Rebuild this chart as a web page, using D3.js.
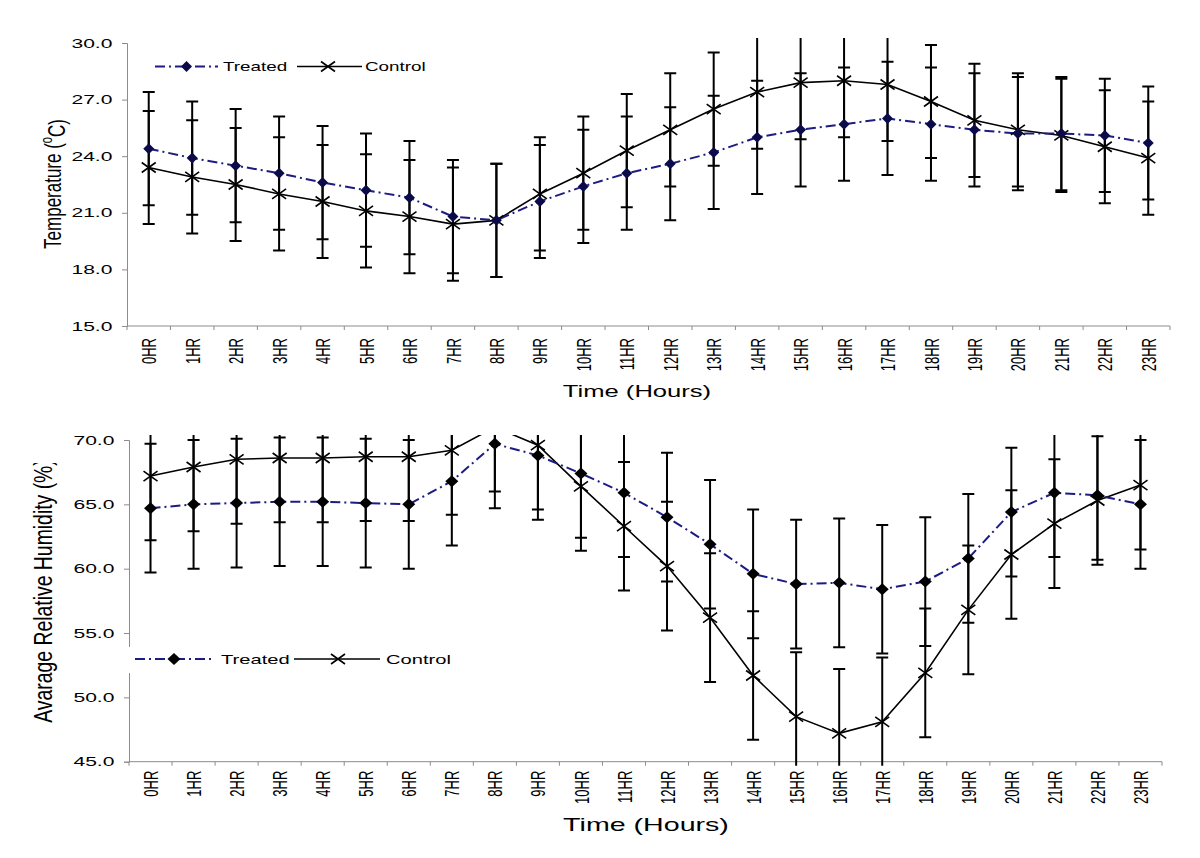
<!DOCTYPE html>
<html>
<head>
<meta charset="utf-8">
<script src="https://cdn.jsdelivr.net/npm/d3@7"></script>
<style>
  body { margin: 0; background: #fff; }
  svg { display: block; font-family: "Liberation Sans", Arial, sans-serif; }
</style>
</head>
<body>
<script>
// ---------------- data ----------------
const hours = ["0HR","1HR","2HR","3HR","4HR","5HR","6HR","7HR","8HR","9HR","10HR","11HR",
               "12HR","13HR","14HR","15HR","16HR","17HR","18HR","19HR","20HR","21HR","22HR","23HR"];

const tempTreated = [24.4, 23.9, 23.5, 23.1, 22.6, 22.2, 21.8, 20.8, 20.6, 21.6, 22.4, 23.1,
                     23.6, 24.2, 25.0, 25.4, 25.7, 26.0, 25.7, 25.4, 25.2, 25.2, 25.1, 24.7];
const tempControl = [23.4, 22.9, 22.5, 22.0, 21.6, 21.1, 20.8, 20.4, 20.6, 22.0, 23.1, 24.3,
                     25.4, 26.5, 27.4, 27.9, 28.0, 27.8, 26.9, 25.9, 25.4, 25.1, 24.5, 23.9];
const tempTreatedErr = [3.0, 3.0, 3.0, 3.0, 3.0, 3.0, 3.0, 3.0, 3.0, 3.0, 3.0, 3.0,
                        3.0, 3.0, 3.0, 3.0, 3.0, 3.0, 3.0, 3.0, 3.0, 3.0, 3.0, 3.0];
const tempControlErr = [3.0, 3.0, 3.0, 3.0, 3.0, 3.0, 3.0, 3.0, 3.0, 3.0, 3.0, 3.0,
                        3.0, 3.0, 3.0, 3.0, 3.0, 3.0, 3.0, 3.0, 3.0, 3.0, 3.0, 3.0];

const humTreated = [64.7, 65.0, 65.1, 65.2, 65.2, 65.1, 65.0, 66.8, 69.7, 68.8, 67.4, 65.9,
                    64.0, 61.9, 59.6, 58.8, 58.9, 58.4, 59.0, 60.8, 64.4, 65.9, 65.7, 65.0];
const humControl = [67.2, 67.9, 68.5, 68.6, 68.6, 68.7, 68.7, 69.2, 71.0, 69.6, 66.4, 63.3,
                    60.2, 56.2, 51.7, 48.5, 47.2, 48.1, 51.9, 56.8, 61.1, 63.5, 65.3, 66.5];
const humTreatedErr = [5.0, 5.0, 5.0, 5.0, 5.0, 5.0, 5.0, 5.0, 5.0, 5.0, 5.0, 5.0,
                       5.0, 5.0, 5.0, 5.0, 5.0, 5.0, 5.0, 5.0, 5.0, 5.0, 5.0, 5.0];
const humControlErr = [5.0, 5.0, 5.0, 5.0, 5.0, 5.0, 5.0, 5.0, 5.0, 5.0, 5.0, 5.0,
                       5.0, 5.0, 5.0, 5.0, 5.0, 5.0, 5.0, 5.0, 5.0, 5.0, 5.0, 5.0];

const tempTicks = [15, 18, 21, 24, 27, 30];
const humTicks = [45, 50, 55, 60, 65, 70];
const seriesNames = ["Treated", "Control"];

// ---------------- drawing ----------------
const svg = d3.select("body").append("svg").attr("width", 1200).attr("height", 858);
const AXIS = "#8c8c8c";
const NAVY = "#1c1c82";

function stext(parent, x, y, str, o) {
  const g = parent.append("g").attr("transform", `translate(${x},${y})`);
  const t = g.append("text")
    .attr("transform", `scale(${o.sx},1)` + (o.rot ? " rotate(-90)" : ""))
    .attr("font-size", o.size)
    .attr("text-anchor", o.anchor || "middle")
    .attr("dy", o.dy || "0.35em")
    .attr("fill", "#000");
  t.text(str);
  return t;
}

function diamond(g, x, y, w, h, fill) {
  g.append("path").attr("d", `M${x-w},${y}L${x},${y-h}L${x+w},${y}L${x},${y+h}Z`).attr("fill", fill);
}
function cross(g, x, y, w, h) {
  g.append("path").attr("d", `M${x-w},${y-h}L${x+w},${y+h}M${x-w},${y+h}L${x+w},${y-h}`)
    .attr("stroke", "#000").attr("stroke-width", 1.6).attr("fill", "none");
}

function panel(cfg) {
  const x = d3.scaleBand().domain(hours).range([cfg.x0, cfg.x1]);
  const y = d3.scaleLinear().domain(cfg.domain).range([cfg.yb, cfg.yt]);
  const g = svg.append("g");
  const cx = d => x(d) + x.bandwidth() / 2;

  const clipId = "clip" + cfg.id;
  svg.append("clipPath").attr("id", clipId).append("rect")
    .attr("x", cfg.x0 - 10).attr("y", cfg.yt - 5).attr("width", cfg.x1 - cfg.x0 + 20).attr("height", cfg.yb - cfg.yt + 9);

  // y axis
  const ya = g.append("g").attr("transform", `translate(${cfg.x0},0)`)
    .call(d3.axisLeft(y).tickValues(cfg.ticks).tickFormat(d3.format(".1f")).tickSize(5).tickPadding(4));
  ya.select(".domain").attr("stroke", AXIS);
  ya.selectAll(".tick line").attr("stroke", AXIS);
  ya.selectAll(".tick text").attr("font-size", 13).attr("font-family", "Liberation Sans, Arial, sans-serif")
    .attr("fill", "#000").attr("transform", "scale(1.62,1)");

  // x axis: ticks at band boundaries
  const xa = g.append("g").attr("transform", `translate(0,${cfg.yb})`);
  xa.append("path").attr("d", `M${cfg.x0},0H${cfg.x1}`).attr("stroke", AXIS).attr("fill", "none");
  const bounds = hours.map(h => x(h)).concat([cfg.x1]);
  xa.selectAll("line.tk").data(bounds).join("line").attr("class", "tk")
    .attr("x1", d => d).attr("x2", d => d).attr("y1", 0).attr("y2", 4).attr("stroke", AXIS);
  hours.forEach(h => {
    stext(xa, cx(h), cfg.lblGap, h, { size: 13, sx: 1.62, rot: true, anchor: "end", dy: "0.36em" });
  });

  // data layer
  const d = g.append("g").attr("clip-path", `url(#${clipId})`);
  const errs = [[cfg.control, cfg.controlErr], [cfg.treated, cfg.treatedErr]];
  errs.forEach(([vals, err]) => {
    hours.forEach((h, i) => {
      const px = cx(h), top = y(vals[i] + err[i]), bot = y(vals[i] - err[i]);
      d.append("path").attr("d", `M${px},${top}V${bot}M${px-6},${top}H${px+6}M${px-6},${bot}H${px+6}`)
        .attr("stroke", "#000").attr("stroke-width", 2).attr("fill", "none");
    });
  });
  const line = vals => d3.line().x((v, i) => cx(hours[i])).y(v => y(v))(vals);
  d.append("path").attr("d", line(cfg.control)).attr("stroke", "#000").attr("stroke-width", 1.6).attr("fill", "none");
  d.append("path").attr("d", line(cfg.treated)).attr("stroke", NAVY).attr("stroke-width", 2)
    .attr("stroke-dasharray", "10,4,2,4").attr("fill", "none");
  hours.forEach((h, i) => cross(d, cx(h), y(cfg.control[i]), 7, 5));
  hours.forEach((h, i) => diamond(d, cx(h), y(cfg.treated[i]), cfg.dw, cfg.dh, cfg.dfill));

  // legend
  const L = cfg.legend;
  const lg = svg.append("g");
  if (L.box) lg.append("rect").attr("x", L.box[0]).attr("y", L.box[1]).attr("width", L.box[2]).attr("height", L.box[3]).attr("fill", "#fff");
  lg.append("path").attr("d", `M${L.t0},${L.y}H${L.t1}`).attr("stroke", NAVY).attr("stroke-width", 2)
    .attr("stroke-dasharray", "10,4,2,4").attr("fill", "none");
  diamond(lg, L.td, L.y, cfg.dw, cfg.dh, cfg.dfill);
  stext(lg, L.tt, L.y, seriesNames[0], { size: 13, sx: L.sx, anchor: "start" });
  lg.append("path").attr("d", `M${L.c0},${L.y}H${L.c1}`).attr("stroke", "#000").attr("stroke-width", 1.6);
  cross(lg, L.cd, L.y, 7, 5);
  stext(lg, L.ct, L.y, seriesNames[1], { size: 13, sx: L.sx, anchor: "start" });

  return { x, y };
}

panel({
  id: "T", x0: 127, x1: 1170, yt: 43, yb: 326, domain: [15, 30], ticks: tempTicks,
  treated: tempTreated, control: tempControl, treatedErr: tempTreatedErr, controlErr: tempControlErr,
  lblGap: 12, dw: 5.5, dh: 5.5, dfill: "#0b0b4a",
  legend: { y: 66.5, t0: 155, t1: 218, td: 186.5, tt: 223, c0: 297, c1: 362, cd: 328, ct: 365, sx: 1.45 }
});
panel({
  id: "H", x0: 129, x1: 1162, yt: 440, yb: 761.7, domain: [45, 70], ticks: humTicks,
  treated: humTreated, control: humControl, treatedErr: humTreatedErr, controlErr: humControlErr,
  lblGap: 9, dw: 6.5, dh: 6, dfill: "#000",
  legend: { y: 659, t0: 135, t1: 212, td: 174, tt: 221, c0: 294, c1: 380, cd: 338, ct: 386, sx: 1.55,
            box: [124, 647, 340, 26] }
});

// axis titles
const tt = stext(svg, 52, 184, "", { size: 17, sx: 1.45, rot: true, anchor: "middle" });
tt.append("tspan").text("Temperature (");
tt.append("tspan").attr("font-size", 11).attr("dy", "-0.55em").text("o");
tt.append("tspan").attr("dy", "0.55em").text("C)");

svg.append("clipPath").attr("id", "clipTitle").append("rect").attr("x", 0).attr("y", 463).attr("width", 100).attr("height", 395);
const titleWrap = svg.append("g").attr("clip-path", "url(#clipTitle)");
stext(titleWrap, 43, 591, "Avarage Relative Humidity (%)", { size: 19.4, sx: 1.3, rot: true, anchor: "middle" });

stext(svg, 637, 391, "Time (Hours)", { size: 16, sx: 1.6 });
stext(svg, 646, 825, "Time (Hours)", { size: 18, sx: 1.59 });
</script>
</body>
</html>
